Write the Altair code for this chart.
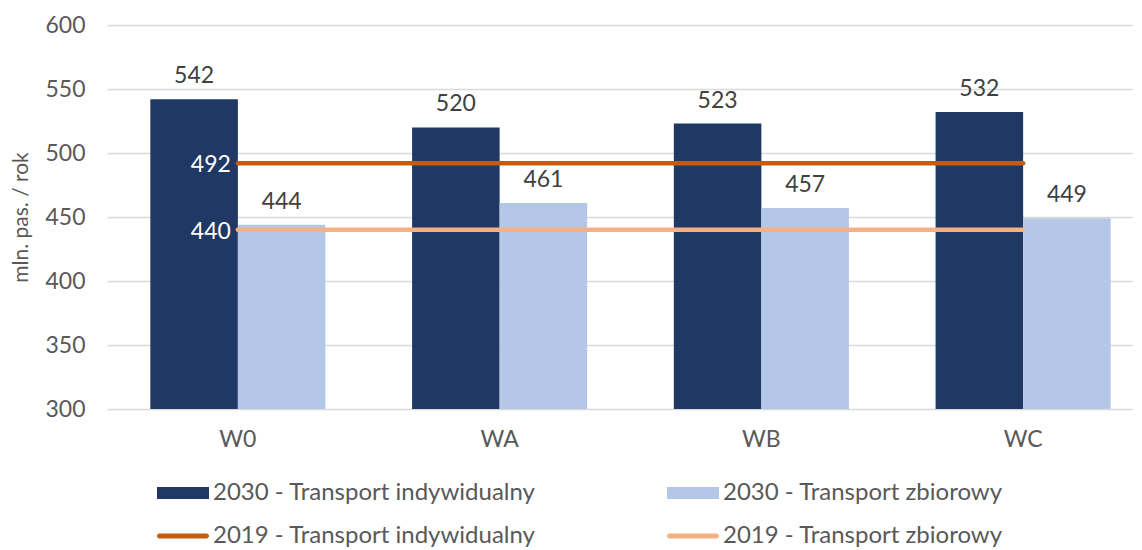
import altair as alt
import pandas as pd

categories = ["W0", "WA", "WB", "WC"]
ind_2030 = [542, 520, 523, 532]
zb_2030 = [444, 461, 457, 449]
ind_2019 = [492, 492, 492, 492]
zb_2019 = [440, 440, 440, 440]
series = [
    "2030 - Transport indywidualny",
    "2030 - Transport zbiorowy",
    "2019 - Transport indywidualny",
    "2019 - Transport zbiorowy",
]
colors = ["#203864", "#B4C7E7", "#C55A11", "#F4B183"]

RECT = "M-2,-0.46H2V0.46H-2Z"
LINE = "M-1.81,-0.19H1.81A0.19,0.19 0 0 1 1.81,0.19H-1.81A0.19,0.19 0 0 1 -1.81,-0.19Z"

bar_rows = []
for c, a, b in zip(categories, ind_2030, zb_2030):
    bar_rows.append({"cat": c, "series": series[0], "value": a})
    bar_rows.append({"cat": c, "series": series[1], "value": b})
bars_df = pd.DataFrame(bar_rows)

line_rows = []
for c, a, b in zip(categories, ind_2019, zb_2019):
    line_rows.append({"cat": c, "series": series[2], "value": a})
    line_rows.append({"cat": c, "series": series[3], "value": b})
lines_df = pd.DataFrame(line_rows)
all_df = pd.concat([bars_df, lines_df], ignore_index=True)

FONT = "Lato"
TXT = "#595959"
FS = 23
LFS = 24

# legend order (filled column by column): 2030 ind, 2019 ind | 2030 zb, 2019 zb
legend_order = [series[0], series[2], series[1], series[3]]
legend_colors = [colors[0], colors[2], colors[1], colors[3]]
color_scale = alt.Scale(domain=legend_order, range=legend_colors)
shape_scale = alt.Scale(domain=legend_order, range=[RECT, LINE, RECT, LINE])

legend = alt.Legend(
    orient="none", legendX=63, legendY=455, columns=2, title=None,
    symbolSize=676, labelFontSize=LFS, labelColor=TXT, labelFont=FONT,
    labelLimit=600, labelOffset=17, columnPadding=130, rowPadding=18,
    symbolOpacity=1, symbolStrokeWidth=0,
)

x_main = alt.X(
    "cat:N",
    sort=categories,
    scale=alt.Scale(range=[0, 1047], paddingInner=0, paddingOuter=0),
    axis=alt.Axis(title=None, labelAngle=0),
)
x_plain = alt.X("cat:N", sort=categories)

y_main = alt.Y(
    "value:Q",
    scale=alt.Scale(domain=[300, 600], zero=False, nice=False),
    axis=alt.Axis(values=[300, 350, 400, 450, 500, 550, 600], title="mln. pas. / rok"),
)

xoff = alt.XOffset(
    "series:N", sort=series[:2],
    scale=alt.Scale(paddingInner=0, paddingOuter=0.495),
)

bar_layer = alt.Chart(bars_df).mark_bar(clip=True).encode(
    x=x_main,
    xOffset=xoff,
    y=y_main,
    color=alt.Color("series:N", scale=color_scale, legend=legend),
)

bar_text = alt.Chart(bars_df).mark_text(
    baseline="alphabetic", dy=-16, fontSize=FS, font=FONT, color="#404040"
).encode(
    x=x_plain, xOffset=xoff, y=alt.Y("value:Q"), text=alt.Text("value:Q"),
)

line_layer = alt.Chart(lines_df).mark_line(strokeWidth=4.5, strokeCap="round").encode(
    x=x_plain,
    y=alt.Y("value:Q"),
    color=alt.Color("series:N", scale=color_scale, legend=legend),
    detail="series:N",
)

line_text = alt.Chart(lines_df).transform_filter(
    alt.datum.cat == categories[0]
).mark_text(
    align="right", baseline="middle", dx=-7, dy=2, fontSize=FS, font=FONT, color="white"
).encode(
    x=x_plain, y=alt.Y("value:Q"), text=alt.Text("value:Q"),
)

legend_layer = alt.Chart(all_df).mark_point(filled=True, opacity=0).encode(
    x=x_plain,
    y=alt.Y("value:Q"),
    color=alt.Color("series:N", scale=color_scale, legend=legend),
    shape=alt.Shape("series:N", scale=shape_scale, legend=legend),
)

chart = (
    alt.layer(bar_layer, line_layer, bar_text, line_text, legend_layer)
    .properties(
        width=1026, height=384,
        padding={"left": 99, "top": 17, "right": 0, "bottom": 140},
        autosize="none",
    )
    .configure(font=FONT)
    .configure_view(strokeWidth=0, stroke="transparent")
    .configure_axisX(
        ticks=False, domain=False, grid=False,
        labelFontSize=FS, labelColor=TXT, labelFont=FONT, labelPadding=19,
    )
    .configure_axisY(
        titleFontSize=21, titleFont=FONT, titleColor=TXT, titleFontWeight="normal",
        titlePadding=13, labelFontSize=FS, labelColor=TXT, labelFont=FONT,
        labelPadding=22, ticks=False, domain=False, gridColor="#D9D9D9", gridWidth=1.4,
    )
)

chart.save("out.html", embed_options={"renderer": "svg", "actions": False})
